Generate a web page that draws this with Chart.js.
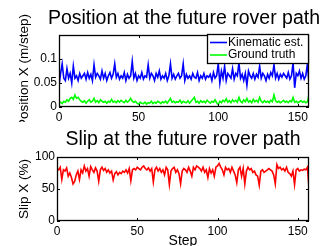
<!DOCTYPE html>
<html>
<head>
<meta charset="utf-8">
<script src="https://cdn.jsdelivr.net/npm/chart.js@4.4.1/dist/chart.umd.min.js"></script>
<style>
  html, body { margin: 0; padding: 0; background: #fff; overflow: hidden; width: 326px; height: 246px; }
  .panel { position: absolute; left: 0; width: 326px; }
  #top { top: 0; height: 122px; }
  #bottom { top: 122px; height: 134px; }
</style>
</head>
<body>
<div class="panel" id="top"><canvas id="posChart"></canvas></div>
<div class="panel" id="bottom"><canvas id="slipChart"></canvas></div>
<script>
// position per step (m/step)
const kinematic = [
  0.045, 0.07, 0.09, 0.06, 0.055, 0.08, 0.06, 0.07, 0.05, 0.085,
  0.06, 0.065, 0.055, 0.07, 0.06, 0.065, 0.07, 0.058, 0.072, 0.06,
  0.068, 0.055, 0.088, 0.062, 0.07, 0.065, 0.058, 0.075, 0.06, 0.07,
  0.055, 0.065, 0.072, 0.06, 0.068, 0.09, 0.062, 0.07, 0.058, 0.065,
  0.06, 0.072, 0.055, 0.068, 0.06, 0.065, 0.095, 0.06, 0.07, 0.055,
  0.065, 0.06, 0.072, 0.058, 0.065, 0.062, 0.088, 0.06, 0.07, 0.065,
  0.055, 0.07, 0.062, 0.075, 0.058, 0.065, 0.06, 0.07, 0.055, 0.065,
  0.09, 0.06, 0.068, 0.058, 0.065, 0.07, 0.06, 0.065, 0.09, 0.055,
  0.068, 0.06, 0.065, 0.058, 0.07, 0.062, 0.06, 0.072, 0.055, 0.065,
  0.06, 0.07, 0.058, 0.065, 0.062, 0.068, 0.055, 0.072, 0.06, 0.065,
  0.09, 0.05, 0.075, 0.06, 0.085, 0.055, 0.07, 0.065, 0.06, 0.08,
  0.058, 0.07, 0.065, 0.092, 0.06, 0.068, 0.055, 0.07, 0.045, 0.075,
  0.065, 0.06, 0.07, 0.058, 0.068, 0.062, 0.085, 0.06, 0.07, 0.065,
  0.055, 0.068, 0.06, 0.072, 0.065, 0.088, 0.06, 0.07, 0.058, 0.068,
  0.062, 0.07, 0.065, 0.06, 0.072, 0.058, 0.065, 0.092, 0.04, 0.07,
  0.065, 0.075, 0.06, 0.07, 0.058, 0.065, 0.09, 0.05
];
const groundTruth = [
  0.008, 0.01, 0.007, 0.012, 0.01, 0.015, 0.012, 0.018, 0.02, 0.016,
  0.025, 0.018, 0.02, 0.015, 0.012, 0.01, 0.013, 0.008, 0.012, 0.015,
  0.01, 0.012, 0.018, 0.01, 0.013, 0.009, 0.015, 0.012, 0.01, 0.012,
  0.008, 0.012, 0.01, 0.016, 0.01, 0.012, 0.009, 0.013, 0.01, 0.014,
  0.011, 0.009, 0.014, 0.01, 0.013, 0.018, 0.012, 0.01, 0.012, 0.008,
  0.006, 0.01, 0.008, 0.007, 0.01, 0.006, 0.009, 0.008, 0.012, 0.007,
  0.01, 0.008, 0.012, 0.01, 0.007, 0.011, 0.009, 0.012, 0.008, 0.013,
  0.018, 0.01, 0.012, 0.009, 0.011, 0.01, 0.014, 0.008, 0.012, 0.01,
  0.009, 0.013, 0.008, 0.012, 0.016, 0.02, 0.01, 0.012, 0.008, 0.013,
  0.01, 0.012, 0.009, 0.014, 0.011, 0.008, 0.012, 0.01, 0.015, 0.009,
  0.005, 0.012, 0.009, 0.014, 0.011, 0.017, 0.01, 0.013, 0.009, 0.015,
  0.011, 0.014, 0.01, 0.02, 0.012, 0.009, 0.015, 0.011, 0.018, 0.01,
  0.013, 0.009, 0.016, 0.011, 0.014, 0.01, 0.02, 0.012, 0.009, 0.013,
  0.01, 0.012, 0.009, 0.014, 0.011, 0.025, 0.013, 0.01, 0.012, 0.009,
  0.011, 0.014, 0.01, 0.012, 0.009, 0.013, 0.011, 0.02, 0.01, 0.012,
  0.009, 0.011, 0.013, 0.01, 0.012, 0.009, 0.011, 0.025
];
// slip per step (%)
const slip = [
  82, 80, 84, 65, 80, 78, 83, 70, 75, 68,
  58, 62, 72, 78, 65, 80, 75, 86, 78, 82,
  70, 85, 80, 76, 83, 78, 62, 80, 84, 79,
  82, 76, 80, 75, 78, 64, 74, 77, 72, 76,
  74, 78, 76, 80, 75, 82, 63, 80, 82, 80,
  84, 82, 80, 84, 86, 82, 80, 83, 78, 82,
  61, 80, 84, 78, 82, 76, 80, 72, 84, 80,
  57, 78, 82, 84, 76, 80, 74, 58, 78, 82,
  80, 76, 84, 78, 70, 84, 80, 86, 84, 82,
  78, 84, 76, 80, 68, 82, 75, 80, 70, 84,
  86, 90, 84, 80, 72, 84, 80, 82, 76, 84,
  78, 72, 60, 80, 84, 70, 82, 58, 78, 84,
  80, 82, 76, 78, 72, 70, 56, 78, 80, 76,
  78, 80, 82, 80, 78, 72, 58, 88, 82, 84,
  80, 82, 78, 84, 76, 74, 70, 78, 57, 80,
  82, 78, 80, 79, 81, 80, 84, 52
];
const steps = kinematic.map((_, i) => i);
const stepTicks = [0, 50, 100, 150];
const posTicks = [0, 0.05, 0.1];
const slipTicks = [0, 50, 100];

const FONT = "'Liberation Sans', Arial, sans-serif";
Chart.defaults.font.family = FONT;
Chart.defaults.color = '#000';

// black box round the plot with small inward ticks
const frame = {
  id: 'frame',
  afterDatasetsDraw(chart) {
    const { ctx, chartArea: a, scales } = chart;
    ctx.save();
    ctx.strokeStyle = '#000';
    ctx.lineWidth = 1;
    ctx.beginPath();
    scales.x.ticks.forEach(t => {
      const px = Math.round(scales.x.getPixelForValue(t.value)) + 0.5;
      ctx.moveTo(px, a.bottom); ctx.lineTo(px, a.bottom - 3);
      ctx.moveTo(px, a.top); ctx.lineTo(px, a.top + 3);
    });
    scales.y.ticks.forEach(t => {
      const py = Math.round(scales.y.getPixelForValue(t.value)) + 0.5;
      ctx.moveTo(a.left, py); ctx.lineTo(a.left + 3, py);
      ctx.moveTo(a.right, py); ctx.lineTo(a.right - 3, py);
    });
    ctx.stroke();
    ctx.lineWidth = 1.3;
    ctx.strokeRect(a.left + 0.5, a.top + 0.5, a.right - a.left - 1, a.bottom - a.top - 1);
    ctx.restore();
  }
};

// legend box in the top right corner of the plot
const boxLegend = {
  id: 'boxLegend',
  afterDraw(chart) {
    const { ctx, chartArea: a } = chart;
    const w = 102, h = 30;
    const x0 = a.right - w, y0 = a.top - 1;
    ctx.save();
    ctx.fillStyle = '#fff';
    ctx.fillRect(x0, y0, w, h);
    ctx.strokeStyle = '#000';
    ctx.lineWidth = 1.3;
    ctx.strokeRect(x0 + 0.5, y0 + 0.5, w - 1, h - 1);
    ctx.font = '12px ' + FONT;
    ctx.textBaseline = 'middle';
    chart.data.datasets.forEach((d, i) => {
      const y = y0 + 8.5 + i * 12.5;
      ctx.strokeStyle = d.borderColor;
      ctx.lineWidth = 1.6;
      ctx.beginPath();
      ctx.moveTo(x0 + 3, y); ctx.lineTo(x0 + 20, y);
      ctx.stroke();
      ctx.fillStyle = '#000';
      ctx.fillText(d.label, x0 + 21, y);
    });
    ctx.restore();
  }
};

function xScale(height, withTitle) {
  return {
    type: 'linear', min: 0, max: 157,
    afterBuildTicks: s => { s.ticks = stepTicks.map(v => ({ value: v })); },
    afterFit: s => { s.height = height; },
    grid: { display: false, drawTicks: false },
    border: { display: false },
    ticks: { padding: 3, font: { size: 12 }, maxRotation: 0, autoSkip: false, callback: v => String(v) },
    title: { display: withTitle, text: 'Step', font: { size: 14 }, padding: { top: 0, bottom: 6.6 } }
  };
}

function yScale(max, tickVals, width, label) {
  return {
    min: 0, max: max,
    afterBuildTicks: s => { s.ticks = tickVals.map(v => ({ value: v })); },
    afterFit: s => { s.width = width; },
    grid: { display: false, drawTicks: false },
    border: { display: false },
    ticks: { padding: 2, font: { size: 12 }, callback: v => String(v) },
    title: { display: true, text: label, font: { size: 13.5 }, padding: { top: 15.9, bottom: 0 } }
  };
}

new Chart(document.getElementById('posChart'), {
  type: 'line',
  data: {
    labels: steps,
    datasets: [
      { label: 'Kinematic est.', data: kinematic, borderColor: '#0000ff', borderWidth: 1.6, pointRadius: 0, tension: 0, yAxisID: 'y' },
      { label: 'Ground truth', data: groundTruth, borderColor: '#00ff00', borderWidth: 1.6, pointRadius: 0, tension: 0, yAxisID: 'y' }
    ]
  },
  options: {
    responsive: true,
    maintainAspectRatio: false,
    animation: false,
    layout: { padding: { left: 0, right: 6, top: 0, bottom: 0 } },
    scales: {
      x: xScale(15, false),
      y: yScale(0.15, posTicks, 59, 'Position X (m/step)'),
      yr: {
        position: 'right', display: true,
        afterFit: s => { s.width = 11; },
        grid: { display: false, drawTicks: false },
        border: { display: false },
        ticks: { display: false }
      }
    },
    plugins: {
      legend: { display: false },
      tooltip: { enabled: false },
      title: {
        display: true, text: 'Position at the future rover path', align: 'end',
        font: { size: 19.5, weight: 'normal' }, padding: { top: 6.5, bottom: 5.1 }
      }
    }
  },
  plugins: [frame, boxLegend]
});

new Chart(document.getElementById('slipChart'), {
  type: 'line',
  data: {
    labels: steps,
    datasets: [
      { label: 'Slip', data: slip, borderColor: '#ff0000', borderWidth: 1.6, pointRadius: 0, tension: 0 }
    ]
  },
  options: {
    responsive: true,
    maintainAspectRatio: false,
    animation: false,
    layout: { padding: { left: 0, right: 17, top: 0, bottom: 0 } },
    scales: {
      x: xScale(35, true),
      y: yScale(100, slipTicks, 57, 'Slip X (%)')
    },
    plugins: {
      legend: { display: false },
      tooltip: { enabled: false },
      title: {
        display: true, text: 'Slip at the future rover path', fullSize: false,
        font: { size: 19.5, weight: 'normal' }, padding: { top: 5.5, bottom: 6.1 }
      }
    }
  },
  plugins: [frame]
});
</script>
</body>
</html>
